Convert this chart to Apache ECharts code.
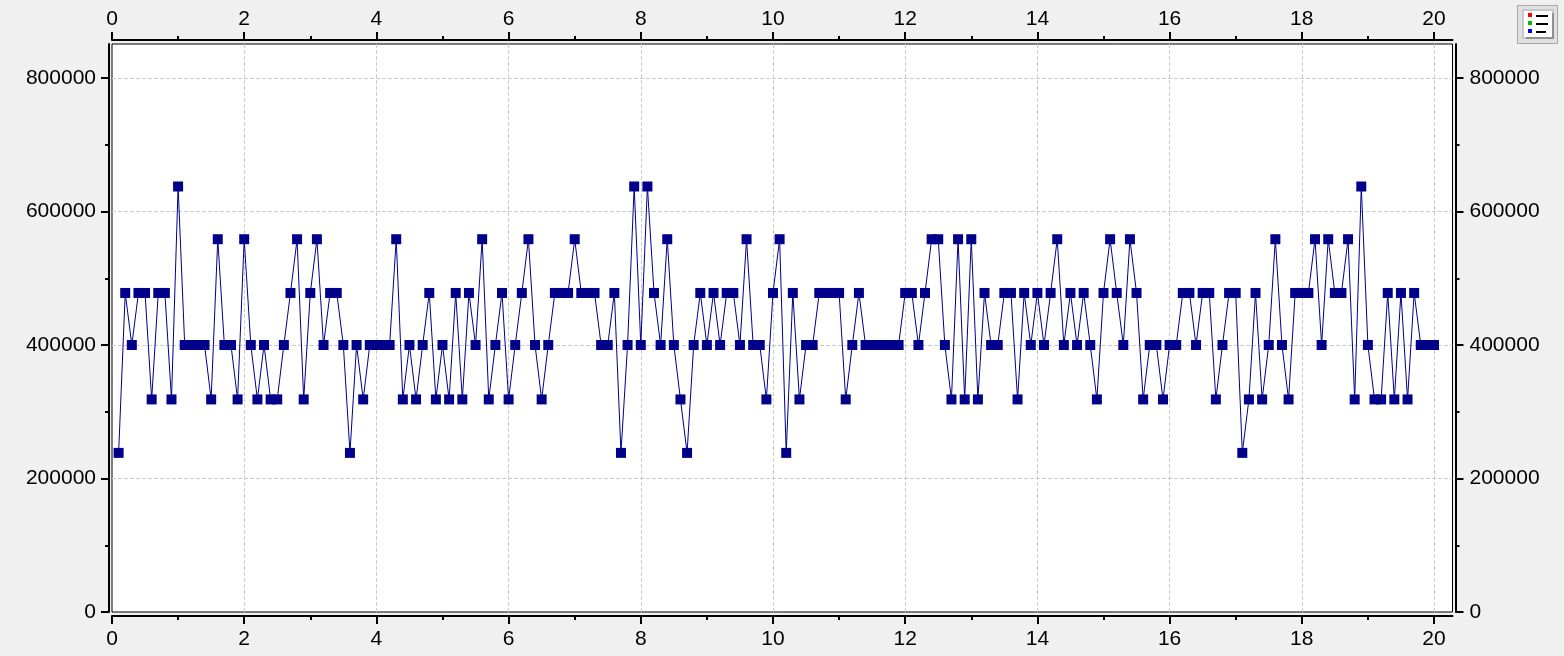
<!DOCTYPE html>
<html><head><meta charset="utf-8">
<style>html,body{margin:0;padding:0;background:#f0f0f0}#c{width:1564px;height:656px}</style>
<script src="https://cdn.jsdelivr.net/npm/echarts@6/dist/echarts.min.js"></script>
</head><body><div id="c"></div>
<script>
const A=238400,B=318500,C=400000,D=478000,E=558500,F=637500;
const xValues=[0.1,0.2,0.3,0.4,0.5,0.6,0.7,0.8,0.9,1.0,1.1,1.2,1.3,1.4,1.5,1.6,1.7,1.8,1.9,2.0,2.1,2.2,2.3,2.4,2.5,2.6,2.7,2.8,2.9,3.0,3.1,3.2,3.3,3.4,3.5,3.6,3.7,3.8,3.9,4.0,4.1,4.2,4.3,4.4,4.5,4.6,4.7,4.8,4.9,5.0,
5.1,5.2,5.3,5.4,5.5,5.6,5.7,5.8,5.9,6.0,6.1,6.2,6.3,6.4,6.5,6.6,6.7,6.8,6.9,7.0,7.1,7.2,7.3,7.4,7.5,7.6,7.7,7.8,7.9,8.0,8.1,8.2,8.3,8.4,8.5,8.6,8.7,8.8,8.9,9.0,9.1,9.2,9.3,9.4,9.5,9.6,9.7,9.8,9.9,10.0,
10.1,10.2,10.3,10.4,10.5,10.6,10.7,10.8,10.9,11.0,11.1,11.2,11.3,11.4,11.5,11.6,11.7,11.8,11.9,12.0,12.1,12.2,12.3,12.4,12.5,12.6,12.7,12.8,12.9,13.0,13.1,13.2,13.3,13.4,13.5,13.6,13.7,13.8,13.9,14.0,14.1,14.2,14.3,14.4,14.5,14.6,14.7,14.8,14.9,15.0,
15.1,15.2,15.3,15.4,15.5,15.6,15.7,15.8,15.9,16.0,16.1,16.2,16.3,16.4,16.5,16.6,16.7,16.8,16.9,17.0,17.1,17.2,17.3,17.4,17.5,17.6,17.7,17.8,17.9,18.0,18.1,18.2,18.3,18.4,18.5,18.6,18.7,18.8,18.9,19.0,19.1,19.2,19.3,19.4,19.5,19.6,19.7,19.8,19.9,20.0];
const yValues=[A,D,C,D,D,B,D,D,B,F,
C,C,C,C,B,E,C,C,B,E,
C,B,C,B,B,C,D,E,B,D,
E,C,D,D,C,A,C,B,C,C,
C,C,E,B,C,B,C,D,B,C,
B,D,B,D,C,E,B,C,D,B,
C,D,E,C,B,C,D,D,D,E,
D,D,D,C,C,D,A,C,F,C,
F,D,C,E,C,B,A,C,D,C,
D,C,D,D,C,E,C,C,B,D,
E,A,D,B,C,C,D,D,D,D,
B,C,D,C,C,C,C,C,C,D,
D,C,D,E,E,C,B,E,B,E,
B,D,C,C,D,D,B,D,C,D,
C,D,E,C,D,C,D,C,B,D,
E,D,C,E,D,B,C,C,B,C,
C,D,D,C,D,D,B,C,D,D,
A,B,D,B,C,E,C,B,D,D,
D,E,C,E,D,D,E,B,F,C,
B,B,D,B,D,B,D,C,C,C];
const xTicks=[0,2,4,6,8,10,12,14,16,18,20];
const xMinorTicks=[1,3,5,7,9,11,13,15,17,19];
const yTicks=[0,200000,400000,600000,800000];
const yMinorTicks=[100000,300000,500000,700000];
const xMax=20.28, yMax=851000;
const points=xValues.map((x,i)=>[x,yValues[i]]);
const font={color:'#000',fontFamily:'Liberation Sans, Arial, sans-serif',fontSize:21};
function axis(kind,pos,off,major,margin,extra){
  const mx=kind==='x'?xMax:yMax;
  const vals=kind==='x'?(major?xTicks:xMinorTicks):(major?yTicks:yMinorTicks);
  return {type:'value',position:pos,offset:off,min:0,max:mx,
    axisLine:{show:major,onZero:false,lineStyle:{color:'#000',width:2}},
    axisTick:{show:true,inside:false,length:major?8:4,customValues:vals,lineStyle:{color:'#000',width:2}},
    axisLabel:major?{show:true,customValues:vals,margin:margin,formatter:v=>String(v),...font,...(extra||{})}:{show:false},
    splitLine:{show:false},minorTick:{show:false},minorSplitLine:{show:false}};
}
const chart=echarts.init(document.getElementById('c'),null,{renderer:'canvas'});
const gridLine={show:true,showMinLine:false,lineStyle:{color:'#cccccc',type:[4,2],width:1}};
const yPad={padding:[2,0,0,0]};
chart.setOption({
  animation:false,
  backgroundColor:'#f0f0f0',
  grid:{left:112,right:111.5,top:44,bottom:44,show:true,backgroundColor:'#fff',borderColor:'#000',borderWidth:1},
  xAxis:[axis('x','bottom',4,true,13),axis('x','top',4,true,10),axis('x','bottom',4,false),axis('x','top',4,false),
    {type:'value',min:0,max:xMax,position:'bottom',axisLine:{show:false,onZero:false},axisTick:{show:false,customValues:xTicks},axisLabel:{show:false,customValues:xTicks},splitLine:gridLine}],
  yAxis:[axis('y','left',3,true,13,yPad),axis('y','right',3,true,14,yPad),axis('y','left',3,false),axis('y','right',3,false),
    {type:'value',min:0,max:yMax,position:'left',axisLine:{show:false,onZero:false},axisTick:{show:false,customValues:yTicks},axisLabel:{show:false,customValues:yTicks},splitLine:gridLine}],
  series:[{type:'line',xAxisIndex:0,yAxisIndex:0,data:points,symbol:'rect',symbolSize:10,showSymbol:true,showAllSymbols:true,
    lineStyle:{color:'#00008b',width:1},itemStyle:{color:'#00008b'},z:5}],
  graphic:[
    {type:'rect',shape:{x:1517.5,y:5.5,width:40,height:38},style:{fill:'#e0e0e0',stroke:'#a8a8a8',lineWidth:1}},
    {type:'rect',shape:{x:1522,y:9,width:32,height:30},style:{fill:'#c8c8c8'}},
    {type:'rect',shape:{x:1526,y:13,width:28,height:26},style:{fill:'#909090'}},
    {type:'rect',shape:{x:1524,y:11,width:28,height:26},style:{fill:'#fff'}},
    {type:'rect',shape:{x:1528,y:13,width:4,height:4},style:{fill:'#ff0000'}},
    {type:'rect',shape:{x:1528,y:21,width:4,height:4},style:{fill:'#00c000'}},
    {type:'rect',shape:{x:1528,y:29,width:4,height:4},style:{fill:'#0000ff'}},
    {type:'rect',shape:{x:1536,y:15,width:12,height:2},style:{fill:'#000'}},
    {type:'rect',shape:{x:1536,y:23,width:12,height:2},style:{fill:'#000'}},
    {type:'rect',shape:{x:1536,y:31,width:10,height:2},style:{fill:'#000'}}
  ]
});
</script></body></html>
